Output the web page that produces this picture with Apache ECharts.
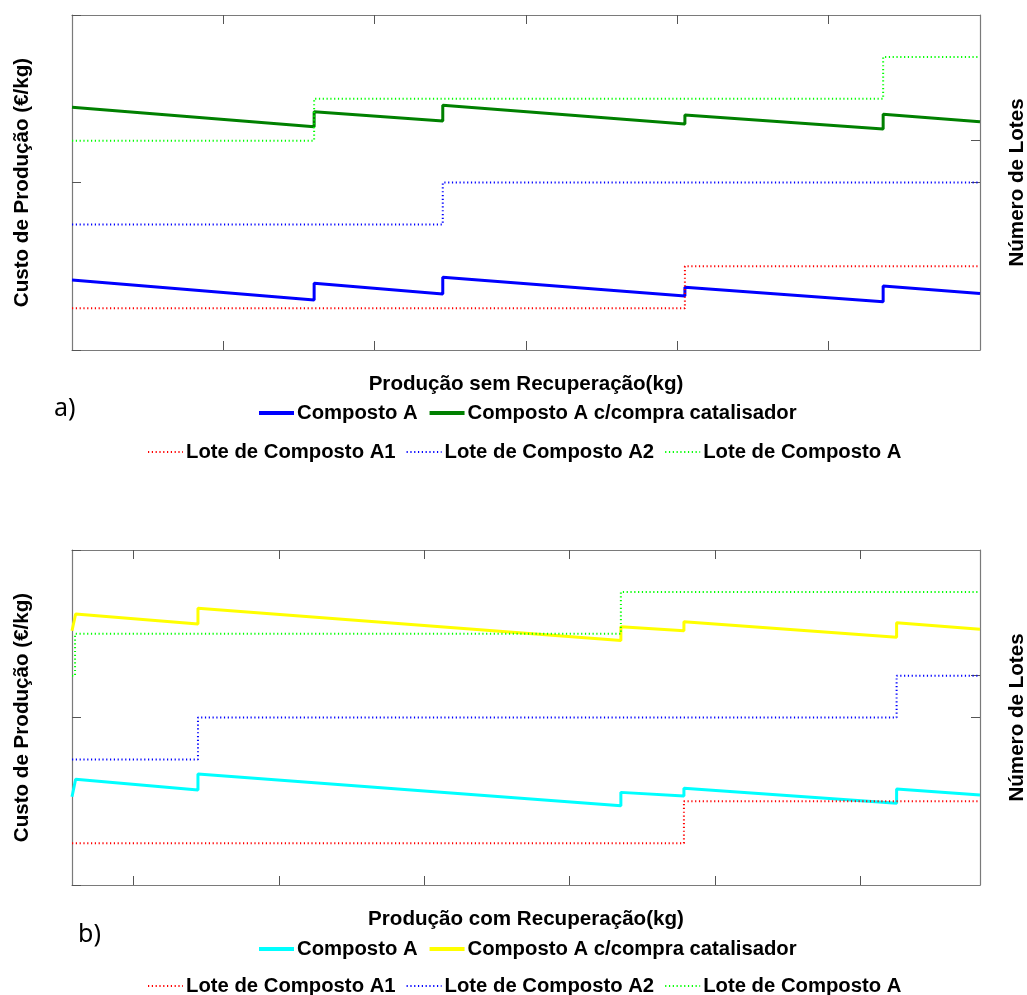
<!DOCTYPE html>
<html>
<head>
<meta charset="utf-8">
<script src="https://cdn.jsdelivr.net/npm/echarts@6/dist/echarts.min.js"></script>
<style>
html,body{margin:0;padding:0;background:#fff;overflow:hidden;}
#ca{position:absolute;left:0;top:0;width:1027px;height:500px;}
#cb{position:absolute;left:0;top:500px;width:1027px;height:495px;}
</style>
</head>
<body>
<div id="ca"></div>
<div id="cb"></div>
<script>
// ---------- Panel a) Produção sem Recuperação ----------
const aXMin = 0, aXMax = 600;
const aXTicks = [100, 200, 300, 400, 500];
const aCompostoA = [[0,4.18],[160,2.99],[160,3.98],[245,3.34],[245,4.34],[405,3.22],[405,3.74],[536,2.88],[536,3.82],[600,3.38]];
const aCompostoACat = [[0,14.49],[160,13.33],[160,14.23],[245,13.67],[245,14.61],[405,13.49],[405,14.03],[536,13.19],[536,14.07],[600,13.63]];
const aLoteA1 = [[0,1],[405,1],[405,2],[600,2]];
const aLoteA2 = [[0,3],[245,3],[245,4],[600,4]];
const aLoteA  = [[0,5],[160,5],[160,6],[536,6],[536,7],[600,7]];

// ---------- Panel b) Produção com Recuperação ----------
const bXMin = 57.5, bXMax = 682.5;
const bXTicks = [100, 200, 300, 400, 500, 600];
const bCompostoA = [[57.5,5.27],[60,6.31],[144.2,5.67],[144.2,6.63],[435.3,4.73],[435.3,5.53],[478.7,5.31],[478.7,5.77],[625.1,4.88],[625.1,5.73],[682.5,5.37]];
const bCompostoACat = [[57.5,15.18],[60,16.18],[144.2,15.58],[144.2,16.52],[435.3,14.59],[435.3,15.42],[478.7,15.18],[478.7,15.72],[625.1,14.79],[625.1,15.66],[682.5,15.27]];
const bLoteA1 = [[57.5,1],[478.7,1],[478.7,2],[682.5,2]];
const bLoteA2 = [[57.5,3],[144.2,3],[144.2,4],[625.1,4],[625.1,5],[682.5,5]];
const bLoteA  = [[57.5,5],[59.6,5],[59.6,6],[435.3,6],[435.3,7],[682.5,7]];

// axis ranges / ticks
const costMin = 0, costMax = 20, costTicks = [0, 10, 20];
const lotMin = 0, lotMax = 8, lotTicks = [4, 5];

const seriesNames = ['Composto A', 'Composto A c/compra catalisador', 'Lote de Composto A1', 'Lote de Composto A2', 'Lote de Composto A'];
const axisTitles = {
  cost: 'Custo de Produção (€/kg)',
  lots: 'Número de Lotes',
  xa: 'Produção sem Recuperação(kg)',
  xb: 'Produção com Recuperação(kg)'
};

const FONT = 'Liberation Sans, Arial, sans-serif';
const FS = 20.6;
const LFS = 20.3;
const AXC = '#7a7a7a';
const dotted = [1.2, 2.6];

function buildOption(cfg) {
  const tickStyle = { lineStyle: { color: '#555', width: 1 } };
  const titleStyle = { fontSize: FS, fontWeight: 'bold', fontFamily: FONT, color: '#000' };
  const xBase = {
    type: 'value', min: cfg.xMin, max: cfg.xMax, gridIndex: 0,
    axisLine: { show: true, onZero: false, lineStyle: { color: AXC, width: 1.2 } },
    axisTick: Object.assign({ show: true, inside: true, length: 9, customValues: cfg.xTicks }, tickStyle),
    axisLabel: { show: false }, splitLine: { show: false }
  };
  const legendText = { fontSize: LFS, fontWeight: 'bold', fontFamily: FONT, color: '#000', padding: [0, 0, 0, -2] };
  const legendCommon = {
    itemWidth: 35, itemHeight: 14, itemGap: 10, padding: 0, selectedMode: false,
    textStyle: legendText,
    itemStyle: { opacity: 0, color: 'rgba(0,0,0,0)', borderWidth: 0 }
  };
  return {
    animation: false,
    backgroundColor: '#fff',
    grid: { left: 72, top: cfg.gridTop, width: 908, height: 335, containLabel: false, outerBoundsMode: 'none' },
    xAxis: [
      Object.assign({}, xBase, {
        position: 'bottom',
        name: cfg.xName, nameLocation: 'middle', nameGap: 24,
        nameTextStyle: titleStyle
      }),
      Object.assign({}, xBase, { position: 'top' })
    ],
    yAxis: [
      {
        type: 'value', min: costMin, max: costMax, position: 'left',
        name: axisTitles.cost, nameLocation: 'middle', nameGap: 39, nameRotate: 90,
        nameTextStyle: titleStyle,
        axisLine: { show: true, onZero: false, lineStyle: { color: AXC, width: 1.2 } },
        axisTick: Object.assign({ show: true, inside: true, length: 9, customValues: costTicks }, tickStyle),
        axisLabel: { show: false }, splitLine: { show: false }
      },
      {
        type: 'value', min: lotMin, max: lotMax, position: 'right',
        name: axisTitles.lots, nameLocation: 'middle', nameGap: 27, nameRotate: 90,
        nameTextStyle: titleStyle,
        axisLine: { show: true, onZero: false, lineStyle: { color: AXC, width: 1.2 } },
        axisTick: Object.assign({ show: true, inside: true, length: 9, customValues: lotTicks }, tickStyle),
        axisLabel: { show: false }, splitLine: { show: false }
      }
    ],
    legend: [
      Object.assign({
        data: [
          { name: seriesNames[0], lineStyle: { width: 4 } },
          { name: seriesNames[1], lineStyle: { width: 4 } }
        ], left: 257, top: cfg.leg1Top }, legendCommon),
      Object.assign({ data: [seriesNames[2], seriesNames[3], seriesNames[4]], left: 147, top: cfg.leg2Top }, legendCommon)
    ],
    graphic: [{
      type: 'text', left: cfg.tagLeft, top: cfg.tagTop,
      style: { text: cfg.tag, font: '25px "Noto Sans", "Open Sans", sans-serif', fill: '#000' }
    }],
    series: [
      { name: seriesNames[0], type: 'line', xAxisIndex: 0, yAxisIndex: 0, data: cfg.s0, symbol: 'none',
        lineStyle: { color: cfg.c0, width: 3 }, itemStyle: { color: cfg.c0 } },
      { name: seriesNames[1], type: 'line', xAxisIndex: 0, yAxisIndex: 0, data: cfg.s1, symbol: 'none',
        lineStyle: { color: cfg.c1, width: 3 }, itemStyle: { color: cfg.c1 } },
      { name: seriesNames[2], type: 'line', xAxisIndex: 0, yAxisIndex: 1, data: cfg.l1, symbol: 'none',
        lineStyle: { color: '#ff0000', width: 2, type: dotted }, itemStyle: { color: '#ff0000' } },
      { name: seriesNames[3], type: 'line', xAxisIndex: 0, yAxisIndex: 1, data: cfg.l2, symbol: 'none',
        lineStyle: { color: '#0000ff', width: 2, type: dotted }, itemStyle: { color: '#0000ff' } },
      { name: seriesNames[4], type: 'line', xAxisIndex: 0, yAxisIndex: 1, data: cfg.l3, symbol: 'none',
        lineStyle: { color: '#00ff00', width: 2, type: dotted }, itemStyle: { color: '#00ff00' } }
    ]
  };
}

const chartA = echarts.init(document.getElementById('ca'), null, { renderer: 'canvas' });
chartA.setOption(buildOption({
  xMin: aXMin, xMax: aXMax, xTicks: aXTicks, xName: axisTitles.xa,
  gridTop: 15, leg1Top: 403, leg2Top: 442, tag: 'a)', tagLeft: 54, tagTop: 396,
  s0: aCompostoA, s1: aCompostoACat, c0: '#0000ff', c1: '#008000',
  l1: aLoteA1, l2: aLoteA2, l3: aLoteA
}));

const chartB = echarts.init(document.getElementById('cb'), null, { renderer: 'canvas' });
chartB.setOption(buildOption({
  xMin: bXMin, xMax: bXMax, xTicks: bXTicks, xName: axisTitles.xb,
  gridTop: 50, leg1Top: 439, leg2Top: 476, tag: 'b)', tagLeft: 78, tagTop: 422,
  s0: bCompostoA, s1: bCompostoACat, c0: '#00ffff', c1: '#ffff00',
  l1: bLoteA1, l2: bLoteA2, l3: bLoteA
}));
</script>
</body>
</html>
